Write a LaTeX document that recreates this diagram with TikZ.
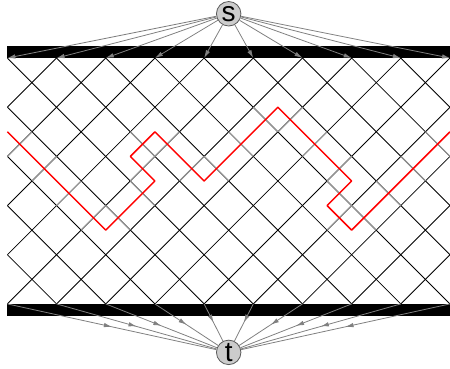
\documentclass[tikz,border=0pt]{standalone}
\usepackage{fontspec}
\setmainfont{Liberation Sans}
\usetikzlibrary{arrows.meta,decorations.markings}

\begin{document}
\begin{tikzpicture}[x=24.6pt,y=24.6pt,>={Latex[length=8pt,width=4.5pt]},
 term/.style={circle,draw=black!65,fill=black!20,line width=0.8pt,minimum size=24.5pt,
 inner sep=0pt,font=\fontsize{28}{28}\selectfont},
 net/.style={black,line width=0.85pt},
 cut/.style={black!42,line width=1.2pt},
 bar/.style={fill=black},
 feed/.style={black!50,line width=0.8pt,->},
 drain/.style={black!50,line width=0.8pt,postaction={decorate},
 decoration={markings,mark=at position 0.5 with {\arrow{>}}}},
 mincut/.style={red,line width=1.5pt,line join=round}]
\useasboundingbox (-0.3,-2.64) rectangle (18,12.36);
% lattice
\begin{scope}
 \clip (0,0) rectangle (18,10);
 \foreach \c in {-10,-8,...,18} \draw[net] (\c,0) -- ++(10,10);
 \foreach \c in {0,2,...,28} \draw[net] (\c,0) -- ++(-10,10);
\end{scope}
% edges crossed by the dual path
\foreach \a/\b/\c/\d in {0/6/1/7,1/5/2/6,2/4/3/5,3/3/4/4,4/4/5/3,5/5/6/4,5/5/6/6,
 5/7/6/6,6/6/7/7,7/5/8/6,8/6/9/5,9/7/10/6,10/8/11/7,11/7/12/8,12/6/13/7,13/5/14/6,
 13/5/14/4,13/3/14/4,14/4/15/3,15/5/16/4,16/6/17/5,17/7/18/6}
 \draw[cut] (\a,\b) -- (\c,\d);
\draw[mincut] (0,7) -- (4,3) -- (6,5) -- (5,6) -- (6,7) -- (8,5) -- (11,8)
 -- (14,5) -- (13,4) -- (14,3) -- (18,7);
% bars and terminals
\fill[bar] (0,10) rectangle (18,10.5);
\fill[bar] (0,0) rectangle (18,-0.5);
\node[term] (s) at (9,11.8) {s};
\node[term] (t) at (9,-1.97) {t};
\foreach \i in {0,...,9} {
 \coordinate (top\i) at (2*\i,10);
 \coordinate (bot\i) at (2*\i,0);
 \draw[feed] (s) -- (top\i);
 \draw[drain] (bot\i) -- (t);
}
\end{tikzpicture}
\end{document}
